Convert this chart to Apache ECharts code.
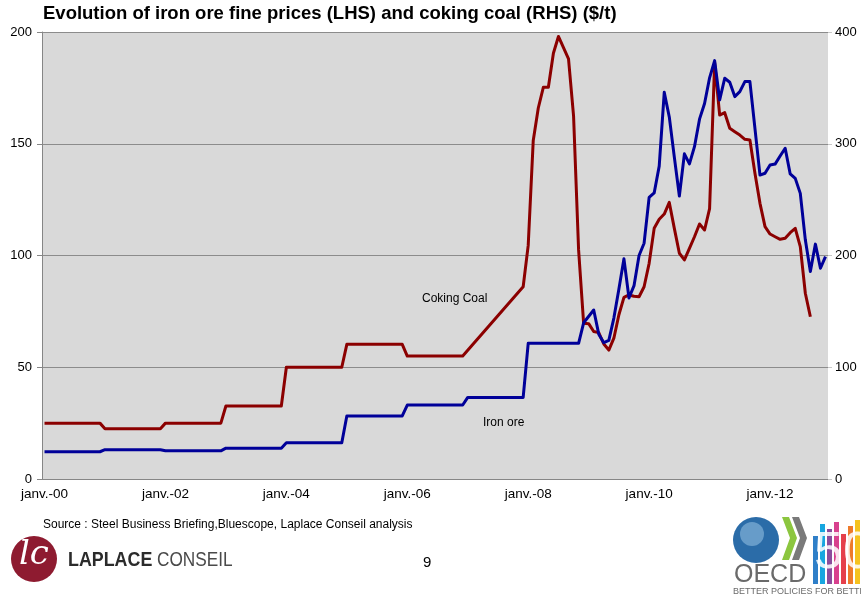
<!DOCTYPE html>
<html>
<head>
<meta charset="utf-8">
<script src="https://cdn.jsdelivr.net/npm/echarts@6/dist/echarts.min.js"></script>
<style>
  html, body { margin: 0; padding: 0; background: #fff; }
  #chart { width: 861px; height: 600px; }
</style>
</head>
<body>
<div id="chart"></div>
<script>
// libellés de mois (axe catégoriel mensuel janv. 2000 - déc. 2012)
const monthNames = ['janv.', 'févr.', 'mars', 'avr.', 'mai', 'juin', 'juil.', 'août', 'sept.', 'oct.', 'nov.', 'déc.'];
const years = [2000, 2001, 2002, 2003, 2004, 2005, 2006, 2007, 2008, 2009, 2010, 2011, 2012];

// minerai de fer (LHS, $/t)
const ironDates = ['2000-01', '2000-12', '2001-01', '2001-12', '2002-01', '2002-12', '2003-01', '2003-12',
    '2004-01', '2004-12', '2005-01', '2005-12', '2006-01', '2006-12', '2007-01', '2007-12',
    '2008-01', '2008-11', '2008-12', '2009-02', '2009-03', '2009-04', '2009-05', '2009-06',
    '2009-07', '2009-08', '2009-09', '2009-10', '2009-11', '2009-12', '2010-01', '2010-02',
    '2010-03', '2010-04', '2010-05', '2010-06', '2010-07', '2010-08', '2010-09', '2010-10',
    '2010-11', '2010-12', '2011-01', '2011-02', '2011-03', '2011-04', '2011-05', '2011-06',
    '2011-07', '2011-08', '2011-09', '2011-11', '2011-12', '2012-01', '2012-02', '2012-03',
    '2012-04', '2012-05', '2012-06', '2012-07', '2012-08', '2012-09', '2012-10', '2012-11', '2012-12'];
const ironPrices = [12.2, 12.2, 13.1, 13.1, 12.6, 12.6, 13.8, 13.8,
    16.2, 16.2, 28.2, 28.2, 33.1, 33.1, 36.5, 36.5,
    60.7, 60.7, 69.9, 75.6, 64.8, 61.0, 62.0, 72.0,
    85.0, 98.5, 81.0, 86.5, 100.0, 105.5, 126.0, 128.0,
    140.0, 173.0, 162.0, 144.0, 126.6, 145.5, 141.0, 148.7,
    161.0, 168.0, 179.5, 187.2, 169.6, 179.3, 177.5, 171.1,
    173.3, 177.8, 177.8, 136.0, 136.8, 140.5, 140.9, 144.5,
    148.0, 136.5, 134.5, 127.8, 107.0, 92.8, 105.1, 94.3, 99.5];

// charbon à coke (RHS, $/t)
const coalDates = ['2000-01', '2000-12', '2001-01', '2001-12', '2002-01', '2002-12', '2003-01', '2003-12',
    '2004-01', '2004-12', '2005-01', '2005-12', '2006-01', '2006-12', '2007-12',
    '2008-01', '2008-02', '2008-03', '2008-04', '2008-05', '2008-06', '2008-07', '2008-08',
    '2008-09', '2008-10', '2008-11', '2008-12', '2009-01', '2009-02', '2009-03', '2009-04',
    '2009-05', '2009-06', '2009-07', '2009-08', '2009-09', '2009-10', '2009-11', '2009-12',
    '2010-01', '2010-02', '2010-03', '2010-04', '2010-05', '2010-06', '2010-07', '2010-08',
    '2010-09', '2010-10', '2010-11', '2010-12', '2011-01', '2011-02', '2011-03', '2011-04',
    '2011-05', '2011-06', '2011-07', '2011-08', '2011-09', '2011-10', '2011-11', '2011-12',
    '2012-01', '2012-02', '2012-03', '2012-04', '2012-05', '2012-06', '2012-07', '2012-08', '2012-09'];
const coalPrices = [50, 50, 45, 45, 50, 50, 65.3, 65.3,
    100, 100, 120.5, 120.5, 110, 110, 172,
    209, 303, 332, 350.5, 350.5, 381, 396, 386,
    376, 325, 205, 139.3, 139, 132, 131, 120.8,
    115.4, 126, 147, 162.6, 164.7, 163.5, 163.1, 172,
    193, 224.3, 232.5, 237.1, 247.5, 224.3, 202, 196,
    206.4, 216.8, 228.2, 222.8, 242, 372.5, 325.7, 327.8,
    313.8, 310.8, 307.8, 304, 303.4, 273.6, 246.7, 225.8,
    219.2, 216.8, 214.5, 215.4, 220.4, 224.3, 207.9, 166.2, 145.2];

const leftTicks = [0, 50, 100, 150, 200];
const rightTicks = [0, 100, 200, 300, 400];

let categories = [];
years.forEach(function (y) {
    monthNames.forEach(function (m) {
        categories.push(m + '-' + String(y).slice(2));
    });
});

function toIndex(d) {
    let p = d.split('-');
    return (Number(p[0]) - 2000) * 12 + Number(p[1]) - 1;
}
function pairs(dates, values) {
    return dates.map(function (d, i) { return [toIndex(d), values[i]]; });
}

const font = 'Liberation Sans, Arial, sans-serif';
let myChart = echarts.init(document.getElementById('chart'));

// bandes colorées du logo "50"
let bars50 = [];
const barColors = ['#2f7fc8', '#16a6e0', '#8b4c9c', '#d8418e', '#e5404b', '#ee7a2a', '#f5c21f'];
const barHeights = [48, 60, 55, 62, 50, 58, 64];
barColors.forEach(function (c, i) {
    bars50.push({
        type: 'rect', shape: { x: 813 + i * 7, y: 584 - barHeights[i], width: 5, height: barHeights[i] },
        style: { fill: c }, silent: true
    });
});

let option = {
    animation: false,
    title: {
        text: 'Evolution of iron ore fine prices (LHS) and coking coal (RHS) ($/t)',
        left: 43, top: 4, padding: 0,
        textStyle: { fontFamily: font, fontSize: 18.5, fontWeight: 'bold', color: '#000' }
    },
    grid: {
        left: 42, right: 33, top: 32, bottom: 121,
        show: true, backgroundColor: '#d9d9d9', borderWidth: 0
    },
    xAxis: {
        type: 'category',
        data: categories,
        boundaryGap: true,
        axisLine: { lineStyle: { color: '#868686', width: 1 } },
        axisTick: { interval: 11, length: 5, lineStyle: { color: '#868686' } },
        axisLabel: { interval: 23, color: '#000', fontFamily: font, fontSize: 13.5, margin: 8 },
        splitLine: { show: false }
    },
    yAxis: [{
        type: 'value', min: leftTicks[0], max: leftTicks[leftTicks.length - 1], interval: 50,
        axisLine: { show: true, lineStyle: { color: '#868686' } },
        axisTick: { show: true, length: 5, lineStyle: { color: '#868686' } },
        axisLabel: { color: '#000', fontFamily: font, fontSize: 13, margin: 10 },
        splitLine: { lineStyle: { color: '#8c8c8c', width: 1 } }
    }, {
        type: 'value', min: rightTicks[0], max: rightTicks[rightTicks.length - 1], interval: 100,
        position: 'right',
        axisLine: { show: false },
        axisTick: { show: true, length: 4, lineStyle: { color: '#c8c8c8' } },
        axisLabel: { color: '#000', fontFamily: font, fontSize: 13, margin: 7 },
        splitLine: { show: false }
    }],
    series: [{
        name: 'Coking Coal',
        type: 'line',
        yAxisIndex: 1,
        data: pairs(coalDates, coalPrices),
        showSymbol: false,
        symbol: 'none',
        lineStyle: { color: '#8b0000', width: 3, join: 'round' }
    }, {
        name: 'Iron ore',
        type: 'line',
        yAxisIndex: 0,
        data: pairs(ironDates, ironPrices),
        showSymbol: false,
        symbol: 'none',
        lineStyle: { color: '#000099', width: 3, join: 'round' }
    }],
    graphic: [
        { type: 'text', left: 422, top: 293, style: { text: 'Coking Coal', font: '12px ' + font, fill: '#000' } },
        { type: 'text', left: 483, top: 417, style: { text: 'Iron ore', font: '12px ' + font, fill: '#000' } },
        { type: 'text', left: 43, top: 519, style: { text: 'Source : Steel Business Briefing,Bluescope, Laplace Conseil analysis', font: '12px ' + font, fill: '#000' } },
        // logo Laplace Conseil
        { type: 'circle', shape: { cx: 34, cy: 559, r: 23 }, style: { fill: '#8e1b30' } },
        { type: 'text', left: 19, top: 538, style: { text: 'lc', font: 'italic 34px DejaVu Serif, serif', fill: '#fff' } },
        { type: 'text', x: 68, y: 550, scaleX: 0.85, style: { text: 'LAPLACE', font: 'bold 21px ' + font, fill: '#2b2b2b' } },
        { type: 'text', x: 157, y: 550, scaleX: 0.82, style: { text: 'CONSEIL', font: '21px ' + font, fill: '#4a4a4a' } },
        { type: 'text', left: 423, top: 555, style: { text: '9', font: '15px ' + font, fill: '#000' } },
        // logo OCDE
        { type: 'circle', shape: { cx: 756, cy: 540, r: 23 }, style: { fill: '#2b6ca8' } },
        { type: 'circle', shape: { cx: 752, cy: 534, r: 12 }, style: { fill: '#8fbde0', opacity: 0.6 } },
        { type: 'polygon', shape: { points: [[782, 517], [789, 517], [797, 538], [789, 560], [782, 560], [790, 538]] }, style: { fill: '#8cc63f' } },
        { type: 'polygon', shape: { points: [[792, 517], [799, 517], [807, 538], [799, 560], [792, 560], [800, 538]] }, style: { fill: '#7a7a7a' } },
        { type: 'text', left: 734, top: 563, style: { text: 'OECD', font: '25px ' + font, fill: '#6a6a6a' } },
        { type: 'text', left: 733, top: 587, style: { text: 'BETTER POLICIES FOR BETTER LIVES', font: '9px ' + font, fill: '#6a6a6a' } }
    ].concat(bars50).concat([
        { type: 'text', left: 814, top: 528, style: { text: '50', font: '52px ' + font, fill: 'rgba(255,255,255,0.85)' } }
    ])
};
myChart.setOption(option);
window.addEventListener('resize', function () {
    myChart.resize();
});
</script>
</body>
</html>
